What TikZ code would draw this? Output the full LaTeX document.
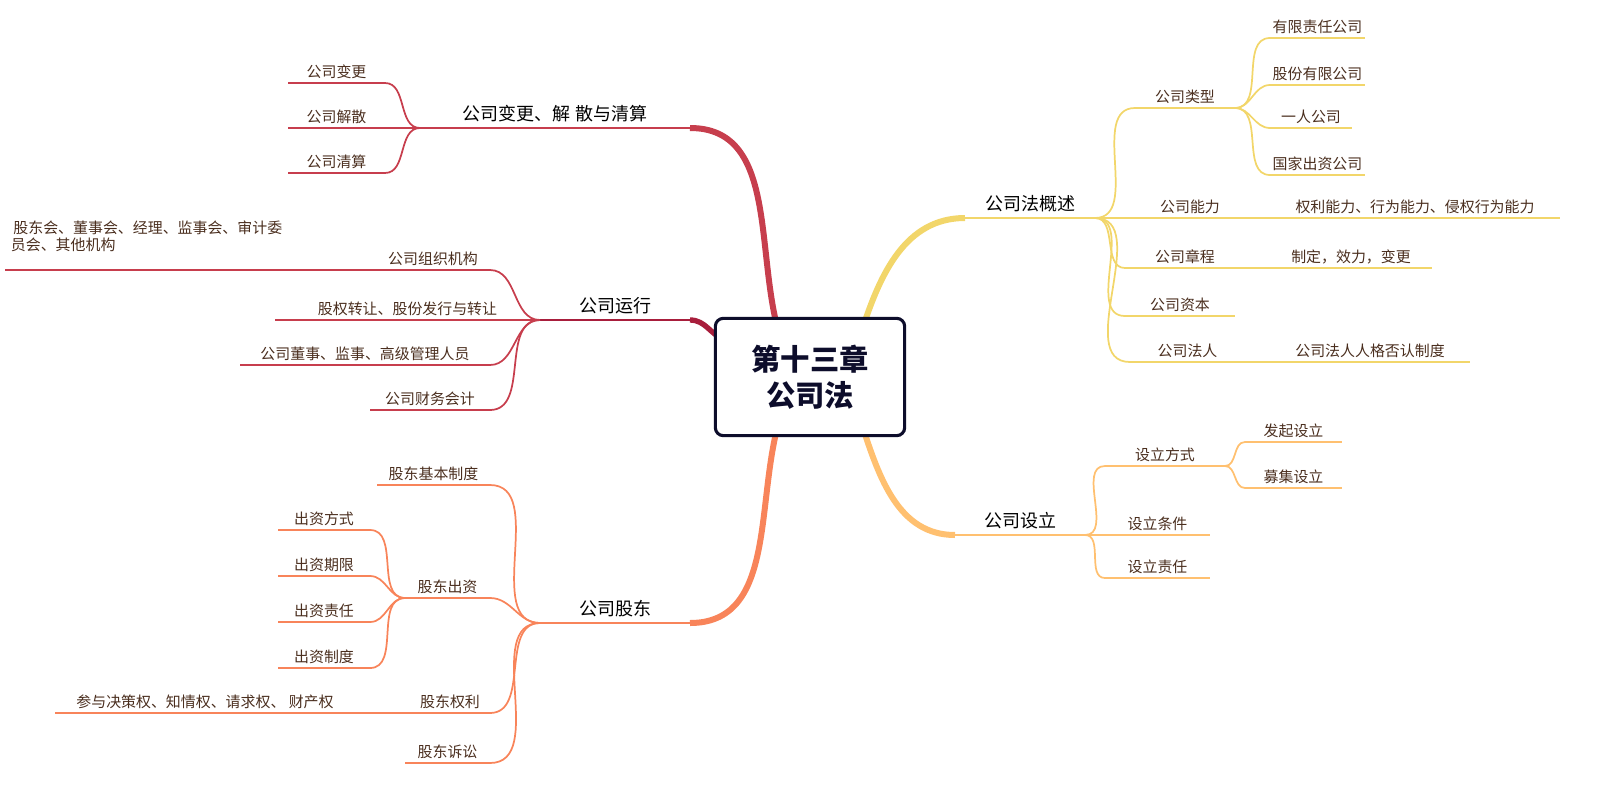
\documentclass[tikz,border=0pt]{standalone}
\usepackage{fontspec}
\setmainfont{Noto Sans CJK SC}
\definecolor{cY}{HTML}{F2D66A}
\definecolor{cO}{HTML}{FFC070}
\definecolor{cS}{HTML}{F8845A}
\definecolor{cR}{HTML}{C73E4D}
\definecolor{cD}{HTML}{A81E3C}
\definecolor{tx}{HTML}{4A2E1E}
\definecolor{nv}{HTML}{0D0D2B}
\newcommand\mmleaf[6]{%
 \coordinate (#1-l) at (#2,#4); \coordinate (#1-r) at (#3,#4);
 \draw[#6,line width=1.3pt] (#1-l) -- (#1-r);
 \node[lf] (#1) at ({(#2+#3)/2},#4-1) {#5};}
\newcommand\mmmain[6]{%
 \coordinate (#1-l) at (#2,#4); \coordinate (#1-r) at (#3,#4);
 \draw[#6,line width=2.2pt] (#1-l) -- (#1-r);
 \node[mn] (#1) at ({(#2+#3)/2},#4-2) {#5};}
\begin{document}
\begin{tikzpicture}[x=0.75pt,y=-0.75pt,
 lf/.style={anchor=south,font=\fontsize{11.2}{13}\selectfont,text=tx,inner sep=2pt},
 mn/.style={anchor=south,font=\fontsize{13.5}{15}\selectfont,text=black,inner sep=3pt},
 cv/.style={line width=1.3pt,out=0,in=180},
 cvl/.style={line width=1.3pt,out=180,in=0}]
\useasboundingbox (0,0) rectangle (1605,789);
\coordinate (c-tr) at (862,330); \coordinate (c-br) at (862,425);
\coordinate (c-tl) at (778,330); \coordinate (c-bl) at (778,425); \coordinate (c-l) at (725,340);
% ===== right: 公司法概述
\mmmain{gs}{965}{1095}{218}{公司法概述}{cY}
\mmleaf{lx}{1135}{1235}{108}{公司类型}{cY}
\mmleaf{yx}{1270}{1365}{38}{有限责任公司}{cY}
\mmleaf{gf}{1270}{1365}{85}{股份有限公司}{cY}
\mmleaf{yr}{1270}{1352}{128}{一人公司}{cY}
\mmleaf{gj}{1270}{1365}{175}{国家出资公司}{cY}
\mmleaf{nl}{1135}{1245}{218}{公司能力}{cY}
\mmleaf{nl2}{1270}{1560}{218}{权利能力、行为能力、侵权行为能力}{cY}
\mmleaf{zc}{1125}{1245}{268}{公司章程}{cY}
\mmleaf{zc2}{1270}{1432}{268}{制定，效力，变更}{cY}
\mmleaf{zb}{1125}{1235}{316}{公司资本}{cY}
\mmleaf{fr}{1130}{1245}{362}{公司法人}{cY}
\mmleaf{fr2}{1270}{1470}{362}{公司法人人格否认制度}{cY}
\foreach \t in {lx,nl,zc,zb,fr} \draw[cY,cv] (gs-r) to (\t-l);
\foreach \t in {yx,gf,yr,gj} \draw[cY,cv] (lx-r) to (\t-l);
\draw[cY,line width=1.3pt] (nl-r)--(nl2-l) (zc-r)--(zc2-l) (fr-r)--(fr2-l);
\draw[cY,line width=4.5pt] (c-tr) to[out=72,in=180] (gs-l);
% ===== right: 公司设立
\mmmain{sl}{955}{1085}{535}{公司设立}{cO}
\mmleaf{fs}{1105}{1225}{466}{设立方式}{cO}
\mmleaf{fq}{1245}{1342}{442}{发起设立}{cO}
\mmleaf{mj}{1245}{1342}{488}{募集设立}{cO}
\mmleaf{tj}{1105}{1210}{535}{设立条件}{cO}
\mmleaf{zr}{1105}{1210}{578}{设立责任}{cO}
\foreach \t in {fs,tj,zr} \draw[cO,cv] (sl-r) to (\t-l);
\foreach \t in {fq,mj} \draw[cO,cv] (fs-r) to (\t-l);
\draw[cO,line width=4.5pt] (c-br) to[out=-72,in=180] (sl-l);
% ===== left: 变更
\mmmain{bg}{420}{690}{128}{公司变更、解 散与清算}{cR}
\mmleaf{b1}{288}{385}{83}{公司变更}{cR}
\mmleaf{b2}{288}{385}{128}{公司解散}{cR}
\mmleaf{b3}{288}{385}{173}{公司清算}{cR}
\foreach \t in {b1,b2,b3} \draw[cR,cvl] (bg-l) to (\t-r);
\draw[cR,line width=4.5pt] (c-tl) to[out=105,in=0] (bg-r);
% ===== left: 运行
\mmmain{yx2}{540}{690}{320}{公司运行}{cD}
\mmleaf{y1}{5}{490}{270}{}{cR}
\node[lf] (y1n) at (433,269) {公司组织机构};
\node[lf,anchor=north west,align=left] (y1t) at (8,218) {\,股东会、董事会、经理、监事会、审计委\\员会、其他机构};
\mmleaf{y2}{275}{540}{320}{股权转让、股份发行与转让}{cR}
\mmleaf{y3}{240}{490}{365}{公司董事、监事、高级管理人员}{cR}
\mmleaf{y4}{370}{490}{410}{公司财务会计}{cR}
\foreach \t in {y1,y3,y4} \draw[cR,cvl] (yx2-l) to (\t-r);
\draw[cD,line width=4pt] (c-l) to[out=160,in=0] (yx2-r);
% ===== left: 股东
\mmmain{gd}{540}{690}{623}{公司股东}{cS}
\mmleaf{g1}{377}{490}{485}{股东基本制度}{cS}
\mmleaf{g2}{405}{490}{598}{股东出资}{cS}
\mmleaf{c1}{278}{370}{530}{出资方式}{cS}
\mmleaf{c2}{278}{370}{576}{出资期限}{cS}
\mmleaf{c3}{278}{370}{622}{出资责任}{cS}
\mmleaf{c4}{278}{370}{668}{出资制度}{cS}
\mmleaf{g3}{55}{490}{713}{}{cS}
\node[lf] (g3a) at (205,712) {参与决策权、知情权、请求权、 财产权};
\node[lf] (g3b) at (450,712) {股东权利};
\mmleaf{g4}{405}{490}{763}{股东诉讼}{cS}
\foreach \t in {g1,g2,g3,g4} \draw[cS,cvl] (gd-l) to (\t-r);
\foreach \t in {c1,c2,c3,c4} \draw[cS,cvl] (g2-l) to (\t-r);
\draw[cS,line width=4.5pt] (c-bl) to[out=-105,in=0] (gd-r);
% centre (drawn last, covers branch starts)
\node[draw=nv,line width=2.3pt,rounded corners=6pt,fill=white,minimum width=142pt,minimum height=88pt,align=center,font=\fontsize{22}{27}\selectfont\bfseries,text=nv] (c) at (810,377) {第十三章\\公司法};
\end{tikzpicture}
\end{document}
